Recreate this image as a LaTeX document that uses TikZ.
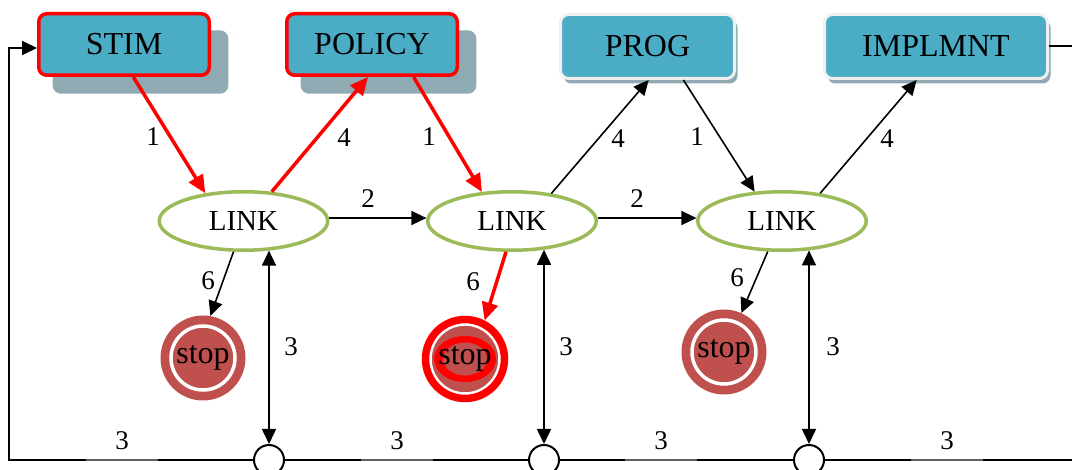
\documentclass[tikz,border=0pt]{standalone}
\usepackage{fontspec}
\setmainfont{Liberation Serif}
\usetikzlibrary{arrows.meta,shapes.geometric,shadows}

\definecolor{boxblue}{HTML}{4BACC6}
\definecolor{shadowgray}{HTML}{8FAAB2}
\definecolor{linkgreen}{HTML}{9BBB59}
\definecolor{stopred}{HTML}{C0504D}
\definecolor{hired}{HTML}{FF0000}
\definecolor{ghost}{HTML}{F0F0F0}
\definecolor{bargray}{HTML}{606060}

\begin{document}
\begin{tikzpicture}[x=1pt,y=-1pt,
  box/.style={rectangle, rounded corners=8pt, fill=boxblue, inner sep=0pt,
    font=\fontsize{32}{32}\selectfont},
  hotbox/.style={box, draw=hired, line width=3.5pt,
    minimum width=170.5pt, minimum height=61.5pt,
    general shadow={fill=shadowgray, shadow xshift=16pt, shadow yshift=-17pt, shadow scale=1.03}},
  plainbox/.style={box, draw=ghost, line width=3pt, minimum height=64pt,
    general shadow={fill=shadowgray, shadow xshift=3pt, shadow yshift=-5pt}},
  linknode/.style={ellipse, draw=linkgreen, line width=3.5pt, fill=white,
    minimum width=168.5pt, minimum height=58.5pt, inner sep=0pt,
    text height=20pt, text depth=-4pt,
    font=\fontsize{29}{29}\selectfont},
  stopnode/.style={circle, fill=stopred, minimum size=85pt, inner sep=0pt,
    font=\fontsize{32}{32}\selectfont,
    path picture={\draw[white, line width=3.5pt] (path picture bounding box.center) circle[radius=32pt];}},
  hotstop/.style={circle, fill=stopred, draw=hired, line width=7.5pt, minimum size=79pt, inner sep=0pt,
    font=\fontsize{32}{32}\selectfont,
    path picture={
      \draw[white, line width=3.5pt] (path picture bounding box.center) circle[radius=35pt];
      \fill[hired] (path picture bounding box.center) ellipse[x radius=31pt, y radius=23pt];
      \fill[stopred] (path picture bounding box.center) ellipse[x radius=22pt, y radius=16.5pt];}},
  junction/.style={circle, draw=black, line width=2pt, fill=white, minimum size=30pt, inner sep=0pt},
  num/.style={inner sep=0pt, font=\fontsize{27}{27}\selectfont},
  busnum/.style={num, minimum width=72pt},
  blkarr/.style={-{Triangle[length=15pt,width=14pt]}, line width=1.6pt, black},
  redarr/.style={-{Triangle[length=18pt,width=16pt]}, line width=3.5pt, hired},
  dbl/.style={{Triangle[length=15pt,width=14pt]}-{Triangle[length=15pt,width=14pt]}, line width=1.6pt},
  bus/.style={line width=2pt, black},
  graybar/.style={line width=2pt, bargray}
]
\useasboundingbox (0,0) rectangle (1072,470);

% process boxes
\node[hotbox] (stim) at (124,44.5) {STIM};
\node[hotbox] (policy) at (372,44.5) {POLICY};
\node[plainbox, minimum width=174pt] (prog) at (647.5,46.5) {PROG};
\node[plainbox, minimum width=223pt] (implmnt) at (936,46.5) {IMPLMNT};

% link ellipses
\node[linknode] (link1) at (243.5,221) {LINK};
\node[linknode] (link2) at (512,221) {LINK};
\node[linknode] (link3) at (782,221) {LINK};

% stop states
\node[stopnode] (s1) at (203,358) {stop};
\node[hotstop] (s2) at (465,359) {stop};
\node[stopnode] (s3) at (724,352) {stop};

% bus junctions
\node[junction] (j1) at (269,460) {};
\node[junction] (j2) at (544,460) {};
\node[junction] (j3) at (809,460) {};

% loop corners
\coordinate (lb) at (9,460);
\coordinate (lt) at (9,48);
\coordinate (rb) at (1090,460);

% box <-> link connectors
\draw[redarr] (stim.-74) -- (link1.144);
\draw[redarr] (link1.46) -- (policy.-97);
\draw[redarr] (policy.-38) -- (link2.136);
\draw[blkarr] (link2.35) -- (prog.-88);
\draw[blkarr] (prog.-43) -- (link3.133);
\draw[blkarr] (link3.36) -- (implmnt.-120);

% link chain
\draw[blkarr] (link1.2) -- (link2.178);
\draw[blkarr] (link2.2) -- (link3.178);

% links to stops
\draw[blkarr] (link1.-108) -- (s1.80);
\draw[redarr] (link2.-101) -- (s2.63);
\draw[blkarr] (link3.-115) -- (s3.66);

% links to bus
\draw[dbl] (link1.-49 -| j1) -- (j1.north);
\draw[dbl] (link2.-42 -| j2) -- (j2.north);
\draw[dbl] (link3.-47 -| j3) -- (j3.north);

% feedback bus
\draw[bus] (implmnt.east) -| (rb) -- (j3.east);
\draw[bus] (j3.west) -- (j2.east);
\draw[bus] (j2.west) -- (j1.east);
\draw[bus, -{Triangle[length=15pt,width=14pt]}] (j1.west) -- (lb) -- (lt) -- (lt -| stim.west);

% labels
\node[num] (n1) at (153,137) {1};
\node[num] (n2) at (344,138) {4};
\node[num] (n3) at (429,137) {1};
\node[num] (n4) at (618,139) {4};
\node[num] (n5) at (697,137) {1};
\node[num] (n6) at (887,139) {4};
\node[num] (n7) at (368,199) {2};
\node[num] (n8) at (637,199) {2};
\node[num] (n9) at (208,281) {6};
\node[num] (n10) at (473,282) {6};
\node[num] (n11) at (737,278) {6};
\node[num] (n12) at (291,347) {3};
\node[num] (n13) at (566,347) {3};
\node[num] (n14) at (833,347) {3};
\node[busnum] (b1) at (122,441) {3};
\node[busnum] (b2) at (397,441) {3};
\node[busnum] (b3) at (661,441) {3};
\node[busnum] (b4) at (947,441) {3};
\draw[graybar] (b1.west |- lb) -- (b1.east |- lb);
\draw[graybar] (b2.west |- lb) -- (b2.east |- lb);
\draw[graybar] (b3.west |- lb) -- (b3.east |- lb);
\draw[graybar] (b4.west |- lb) -- (b4.east |- lb);
\end{tikzpicture}
\end{document}
